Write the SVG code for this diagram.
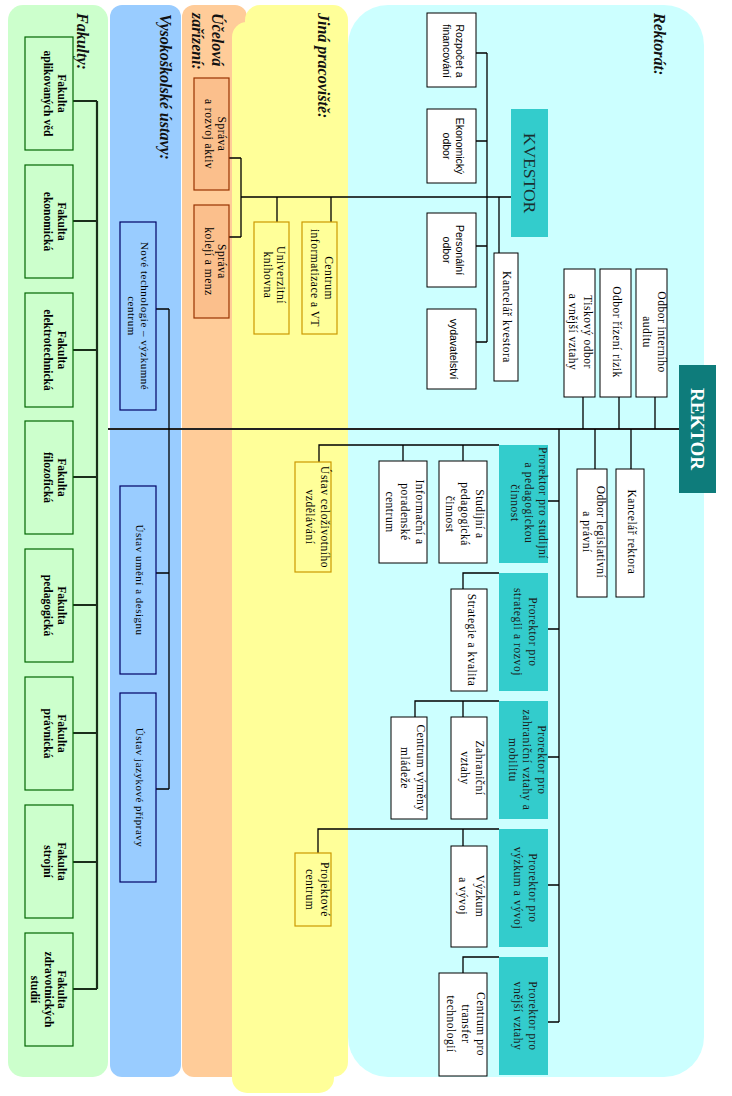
<svg xmlns="http://www.w3.org/2000/svg" width="732" height="1096" viewBox="0 0 732 1096">
<style>
.t{font-family:"Liberation Serif","Times New Roman",serif;font-size:11.5px;letter-spacing:0.5px;text-anchor:middle;dominant-baseline:central;fill:#000}
.tv{font-family:"Liberation Serif","Times New Roman",serif;font-size:11px;letter-spacing:0.5px;text-anchor:middle;dominant-baseline:central;fill:#000}
.tp{font-family:"Liberation Serif","Times New Roman",serif;font-size:11.5px;letter-spacing:0.6px;text-anchor:middle;dominant-baseline:central;fill:#1a1a1a}
.tb{font-family:"Liberation Serif","Times New Roman",serif;font-size:11.5px;font-weight:bold;text-anchor:middle;dominant-baseline:central;fill:#000}
.ts{font-family:"Liberation Sans",Arial,sans-serif;font-size:10.5px;text-anchor:middle;dominant-baseline:central;fill:#000}
.lbl{font-family:"Liberation Serif","Times New Roman",serif;font-size:16px;font-weight:bold;font-style:italic;text-anchor:start;dominant-baseline:central;fill:#111}
.w{fill:#fff;stroke:#000;stroke-width:1}
.fak{fill:#ccffcc;stroke:#006600;stroke-width:1.2}
.vu{fill:#99ccff;stroke:#000066;stroke-width:1.2}
.uz{fill:#fbbf8c;stroke:#993300;stroke-width:1.2}
.jp{fill:#ffff99;stroke:#cc9900;stroke-width:1.2}
.pr{fill:#33cccc}
.c{fill:none;stroke:#000;stroke-width:1.3}
</style>
<g id="panels">
<rect x="8" y="5" width="100" height="1072" rx="15" fill="#ccffcc"/>
<rect x="110" y="5" width="71" height="1072" rx="12" fill="#99ccff"/>
<rect x="182" y="5" width="65" height="1072" rx="12" fill="#ffcc99"/>
<rect x="348" y="5" width="356" height="1072" rx="40" fill="#ccffff"/>
<rect x="245" y="5" width="103" height="1072" rx="15" fill="#ffff99"/>
<rect x="232" y="22" width="102" height="1071" rx="15" fill="#ffff99"/>
</g>
<g id="labels">
<text class="lbl" transform="translate(82,13) rotate(90)">Fakulty:</text>
<text class="lbl" transform="translate(165,14) rotate(90)">Vysokoškolské ústavy:</text>
<text class="lbl" transform="translate(217,13) rotate(90)">Účelová</text>
<text class="lbl" transform="translate(197,13) rotate(90)">zařízení:</text>
<text class="lbl" transform="translate(323,13) rotate(90)">Jiná pracoviště:</text>
<text class="lbl" transform="translate(659,13) rotate(90)">Rektorát:</text>
</g>
<g id="connectors">
<path d="M108 429H680" fill="none" stroke="#222" stroke-width="2.2"/>
<path d="M97 101V989M73 101H97M73 221H97M73 350H97M73 477H97M73 605H97M73 733H97M73 862H97M73 989H97" fill="none" stroke="#1a2e1a" stroke-width="2.2"/>
<path class="c" d="M169 309V789M156 309H169M156 573H169M156 789H169"/>
<path class="c" d="M511 197H241M241 158V237M229 158H241M229 237H241M277 197V222M331 197V222"/>
<path class="c" d="M487 53V342M476 53H487M476 141H487M476 246H487M476 342H487M499 197V253"/>
<path class="c" d="M583 397V429M619 397V429M655 397V429M595 429V469M631 429V469"/>
<path class="c" d="M559 429V1022M548 501H559M548 629H559M548 757H559M548 885H559M548 1022H559"/>
<path class="c" d="M499 445H319V462M463 445V461M403 445V461"/>
<path class="c" d="M499 573H463V589"/>
<path class="c" d="M499 701H415V717M463 701V717"/>
<path class="c" d="M499 829H318V853M463 829V846"/>
<path class="c" d="M499 957H463V973"/>
</g>
<g id="rektor"><rect x="679" y="365" width="37" height="128" fill="#0e7c7b"/><text transform="translate(697.5,429) rotate(90)" font-family="Liberation Serif, serif" font-size="19" font-weight="bold" fill="#fff" text-anchor="middle" dominant-baseline="central">REKTOR</text></g>
<g id="kvestor"><rect x="511" y="109" width="37" height="128" fill="#33cccc"/><text transform="translate(529.5,173) rotate(90)" font-family="Liberation Serif, serif" font-size="17.5" fill="#1a2f2f" text-anchor="middle" dominant-baseline="central">KVESTOR</text></g>
<g id="f1"><rect class="fak" x="25" y="37" width="48" height="113"/><text class="tb" transform="translate(55,93.5) rotate(90)"><tspan x="0" y="-7">Fakulta</tspan><tspan x="0" y="7">aplikovaných věd</tspan></text></g>
<g id="f2"><rect class="fak" x="25" y="165" width="48" height="113"/><text class="tb" transform="translate(55,221.5) rotate(90)"><tspan x="0" y="-7">Fakulta</tspan><tspan x="0" y="7">ekonomická</tspan></text></g>
<g id="f3"><rect class="fak" x="25" y="293" width="48" height="114"/><text class="tb" transform="translate(55,350) rotate(90)"><tspan x="0" y="-7">Fakulta</tspan><tspan x="0" y="7">elektrotechnická</tspan></text></g>
<g id="f4"><rect class="fak" x="25" y="421" width="48" height="113"/><text class="tb" transform="translate(55,477.5) rotate(90)"><tspan x="0" y="-7">Fakulta</tspan><tspan x="0" y="7">filozofická</tspan></text></g>
<g id="f5"><rect class="fak" x="25" y="549" width="48" height="113"/><text class="tb" transform="translate(55,605.5) rotate(90)"><tspan x="0" y="-7">Fakulta</tspan><tspan x="0" y="7">pedagogická</tspan></text></g>
<g id="f6"><rect class="fak" x="25" y="677" width="48" height="113"/><text class="tb" transform="translate(55,733.5) rotate(90)"><tspan x="0" y="-7">Fakulta</tspan><tspan x="0" y="7">právnická</tspan></text></g>
<g id="f7"><rect class="fak" x="25" y="805" width="48" height="113"/><text class="tb" transform="translate(55,861.5) rotate(90)"><tspan x="0" y="-7">Fakulta</tspan><tspan x="0" y="7">strojní</tspan></text></g>
<g id="f8"><rect class="fak" x="25" y="933" width="48" height="113"/><text class="tb" transform="translate(48.5,989.5) rotate(90)"><tspan x="0" y="-13.5">Fakulta</tspan><tspan x="0" y="0">zdravotnických</tspan><tspan x="0" y="13.5">studií</tspan></text></g>
<g id="vu1"><rect class="vu" x="120" y="222" width="36" height="188"/><text class="tv" transform="translate(138,316) rotate(90)"><tspan x="0" y="-6.5">Nové technologie – výzkumné</tspan><tspan x="0" y="6.5">centrum</tspan></text></g>
<g id="vu2"><rect class="vu" x="120" y="486" width="36" height="188"/><text class="tv" transform="translate(140,580) rotate(90)">Ústav umění a designu</text></g>
<g id="vu3"><rect class="vu" x="120" y="693" width="36" height="189"/><text class="tv" transform="translate(140,787.5) rotate(90)">Ústav jazykové přípravy</text></g>
<g id="uz1"><rect class="uz" x="194" y="78" width="35" height="112"/><text class="t" transform="translate(215.5,134) rotate(90)"><tspan x="0" y="-6.5">Správa</tspan><tspan x="0" y="6.5">a rozvoj aktiv</tspan></text></g>
<g id="uz2"><rect class="uz" x="194" y="205" width="35" height="113"/><text class="t" transform="translate(215.5,261.5) rotate(90)"><tspan x="0" y="-6.5">Správa</tspan><tspan x="0" y="6.5">kolejí a menz</tspan></text></g>
<g id="jp1"><rect class="jp" x="254" y="222" width="35" height="112"/><text class="t" transform="translate(274.5,275) rotate(90)"><tspan x="0" y="-6.5">Univerzitní</tspan><tspan x="0" y="6.5">knihovna</tspan></text></g>
<g id="jp2"><rect class="jp" x="302" y="222" width="35" height="112"/><text class="t" transform="translate(322,278) rotate(90)"><tspan x="0" y="-7">Centrum</tspan><tspan x="0" y="7">informatizace a VT</tspan></text></g>
<g id="jp3"><rect class="jp" x="295" y="462" width="36" height="110"/><text class="t" transform="translate(317.5,517) rotate(90)"><tspan x="0" y="-7.5">Ústav celoživotního</tspan><tspan x="0" y="7.5">vzdělávání</tspan></text></g>
<g id="jp4"><rect class="jp" x="295" y="853" width="36" height="73"/><text class="t" transform="translate(317.5,889.5) rotate(90)"><tspan x="0" y="-7.5">Projektové</tspan><tspan x="0" y="7.5">centrum</tspan></text></g>
<g id="k1"><rect class="w" x="427" y="13" width="49" height="74"/><text class="ts" transform="translate(453.5,51) rotate(90)"><tspan x="0" y="-6.5">Rozpočet a</tspan><tspan x="0" y="6.5">financování</tspan></text></g>
<g id="k2"><rect class="w" x="427" y="109" width="49" height="74"/><text class="ts" transform="translate(453.5,146) rotate(90)"><tspan x="0" y="-6.5">Ekonomický</tspan><tspan x="0" y="6.5">odbor</tspan></text></g>
<g id="k3"><rect class="w" x="427" y="213" width="49" height="74"/><text class="ts" transform="translate(453.5,250) rotate(90)"><tspan x="0" y="-6.5">Personální</tspan><tspan x="0" y="6.5">odbor</tspan></text></g>
<g id="k4"><rect class="w" x="427" y="309" width="49" height="80"/><text class="ts" transform="translate(454,349) rotate(90)">vydavatelství</text></g>
<g id="k5"><rect class="w" x="494" y="253" width="24" height="128"/><text class="t" transform="translate(507,317) rotate(90)">Kancelář kvestora</text></g>
<g id="r1"><rect class="w" x="564" y="269" width="31" height="128"/><text class="t" transform="translate(580.5,332) rotate(90)"><tspan x="0" y="-7.5">Tiskový odbor</tspan><tspan x="0" y="7.5">a vnější vztahy</tspan></text></g>
<g id="r2"><rect class="w" x="600" y="269" width="31" height="128"/><text class="t" transform="translate(617,332) rotate(90)">Odbor řízení rizik</text></g>
<g id="r3"><rect class="w" x="636" y="269" width="31" height="128"/><text class="t" transform="translate(654,332) rotate(90)"><tspan x="0" y="-7.5">Odbor interního</tspan><tspan x="0" y="7.5">auditu</tspan></text></g>
<g id="r4"><rect class="w" x="577" y="469" width="30" height="128"/><text class="t" transform="translate(594,532) rotate(90)"><tspan x="0" y="-7">Odbor legislativní</tspan><tspan x="0" y="7">a právní</tspan></text></g>
<g id="r5"><rect class="w" x="616" y="469" width="28" height="128"/><text class="t" transform="translate(631.5,532) rotate(90)">Kancelář rektora</text></g>
<g id="p1"><rect class="pr" x="499" y="445" width="49" height="118"/><text class="tp" transform="translate(528.5,503) rotate(90)"><tspan x="0" y="-14">Prorektor pro studijní</tspan><tspan x="0" y="0">a pedagogickou</tspan><tspan x="0" y="14">činnost</tspan></text></g>
<g id="p2"><rect class="pr" x="499" y="573" width="49" height="118"/><text class="tp" transform="translate(525.5,632) rotate(90)"><tspan x="0" y="-7.5">Prorektor pro</tspan><tspan x="0" y="7.5">strategii a rozvoj</tspan></text></g>
<g id="p3"><rect class="pr" x="499" y="701" width="49" height="118"/><text class="tp" transform="translate(527,760) rotate(90)"><tspan x="0" y="-14.5">Prorektor pro</tspan><tspan x="0" y="0">zahraniční vztahy a</tspan><tspan x="0" y="14.5">mobilitu</tspan></text></g>
<g id="p4"><rect class="pr" x="499" y="829" width="49" height="118"/><text class="tp" transform="translate(525.5,888) rotate(90)"><tspan x="0" y="-7.5">Prorektor pro</tspan><tspan x="0" y="7.5">výzkum a vývoj</tspan></text></g>
<g id="p5"><rect class="pr" x="499" y="957" width="49" height="118"/><text class="tp" transform="translate(525.5,1016) rotate(90)"><tspan x="0" y="-7.5">Prorektor pro</tspan><tspan x="0" y="7.5">vnější vztahy</tspan></text></g>
<g id="s1"><rect class="w" x="439" y="461" width="48" height="102"/><text class="t" transform="translate(465,514) rotate(90)"><tspan x="0" y="-15">Studijní a</tspan><tspan x="0" y="0">pedagogická</tspan><tspan x="0" y="15">činnost</tspan></text></g>
<g id="s2"><rect class="w" x="379" y="461" width="48" height="102"/><text class="t" transform="translate(405,512) rotate(90)"><tspan x="0" y="-15">Informační a</tspan><tspan x="0" y="0">poradenské</tspan><tspan x="0" y="15">centrum</tspan></text></g>
<g id="s3"><rect class="w" x="451" y="589" width="36" height="102"/><text class="t" transform="translate(472,640) rotate(90)">Strategie a kvalita</text></g>
<g id="s4"><rect class="w" x="451" y="717" width="36" height="102"/><text class="t" transform="translate(472,768) rotate(90)"><tspan x="0" y="-7.5">Zahraniční</tspan><tspan x="0" y="7.5">vztahy</tspan></text></g>
<g id="s5"><rect class="w" x="391" y="717" width="36" height="102"/><text class="t" transform="translate(413,768) rotate(90)"><tspan x="0" y="-8">Centrum výměny</tspan><tspan x="0" y="8">mládeže</tspan></text></g>
<g id="s6"><rect class="w" x="451" y="846" width="36" height="101"/><text class="t" transform="translate(471,896) rotate(90)"><tspan x="0" y="-8.5">Výzkum</tspan><tspan x="0" y="8.5">a vývoj</tspan></text></g>
<g id="s7"><rect class="w" x="439" y="973" width="48" height="103"/><text class="t" transform="translate(466,1024) rotate(90)"><tspan x="0" y="-15">Centrum pro</tspan><tspan x="0" y="0">transfer</tspan><tspan x="0" y="15">technologií</tspan></text></g>
</svg>
